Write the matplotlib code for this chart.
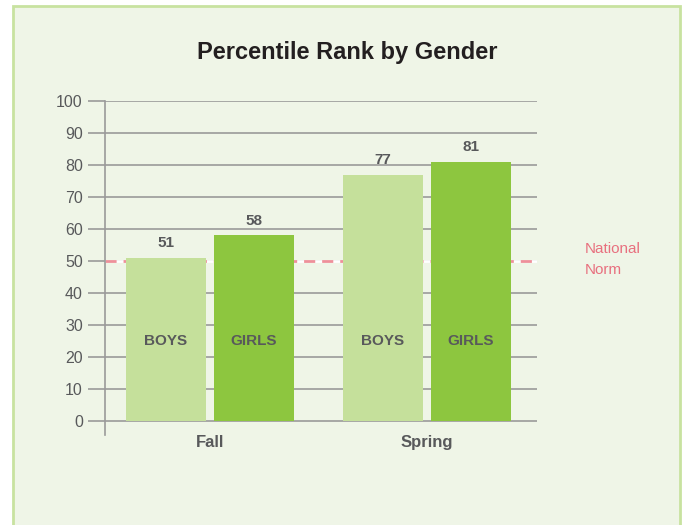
import numpy as np
import matplotlib
matplotlib.use('Agg')
import matplotlib.pyplot as plt
from matplotlib.patches import Rectangle

# data
terms = ['Fall', 'Spring']
boys = [51, 77]
girls = [58, 81]
bar_names = ['BOYS', 'GIRLS']
norm = 50
yticks = list(range(0, 101, 10))

plt.rcParams['font.family'] = ['Liberation Sans', 'DejaVu Sans']
bg = '#eff5e7'
light = '#c5e09b'
dark = '#8dc63f'
txt = '#58595b'
grid = '#9a9a9a'
pink = '#e8707f'

W, H = 687, 525
fig = plt.figure(figsize=(W/100, H/100), dpi=100)
fig.patch.set_facecolor('white')
# the panel behind the chart
fig.patches.append(Rectangle((13/W, -0.1), 667/W, (H-6)/H + 0.1, transform=fig.transFigure,
                             facecolor=bg, edgecolor='#c8e2a0', linewidth=2, zorder=-5))

ax = fig.add_axes([105/W, 1-421/H - 14/H, (537-105)/W, (421-101)/H + 14/H])
ax.set_facecolor('none')
x = np.arange(len(terms))
w = 0.37
off = 0.203
b1 = ax.bar(x - off, boys, w, color=light, zorder=3)
b2 = ax.bar(x + off, girls, w, color=dark, zorder=3)

ax.set_xlim(-0.484, 1.507)
ax.set_ylim(-14/3.2, 100)
ax.set_yticks(yticks)
ax.set_yticklabels([str(t) for t in yticks], fontsize=11.5, color=txt)
ax.yaxis.grid(True, color=grid, linewidth=1.2, zorder=1)
ax.tick_params(axis='y', length=12, width=1.2, color=grid, pad=4)
ax.set_xticks(x)
ax.set_xticklabels(terms, fontsize=12, fontweight='bold', color=txt)
ax.tick_params(axis='x', length=0, pad=0)
for s in ['top', 'right', 'bottom']:
    ax.spines[s].set_visible(False)
ax.spines['left'].set_color(grid)
ax.spines['left'].set_linewidth(1.2)

# national norm: white line covers the gridline, pink dashes on top
ax.axhline(norm, color='white', linewidth=2, zorder=2)
ax.axhline(norm, color='#ee909a', linestyle=(0, (4, 2.5)), linewidth=2, zorder=2.5)
ax.text(585/W, 1-259.5/H, 'National\nNorm', transform=fig.transFigure, color=pink,
        fontsize=11, va='center', ha='left', linespacing=1.6)

for bars, vals, name in [(b1, boys, bar_names[0]), (b2, girls, bar_names[1])]:
    for r, v in zip(bars, vals):
        cx = r.get_x() + r.get_width()/2
        ax.text(cx, v + 2.3, str(v), ha='center', va='bottom', fontsize=11,
                fontweight='bold', color=txt, zorder=4)
        ax.text(cx, 25, name, ha='center', va='center', fontsize=11,
                fontweight='bold', color=txt, zorder=4)

fig.text(347/W, 1-53/H, 'Percentile Rank by Gender', ha='center', va='center',
         fontsize=17, fontweight='bold', color='#231f20')

fig.savefig('out.png', dpi=100, facecolor=fig.get_facecolor())
